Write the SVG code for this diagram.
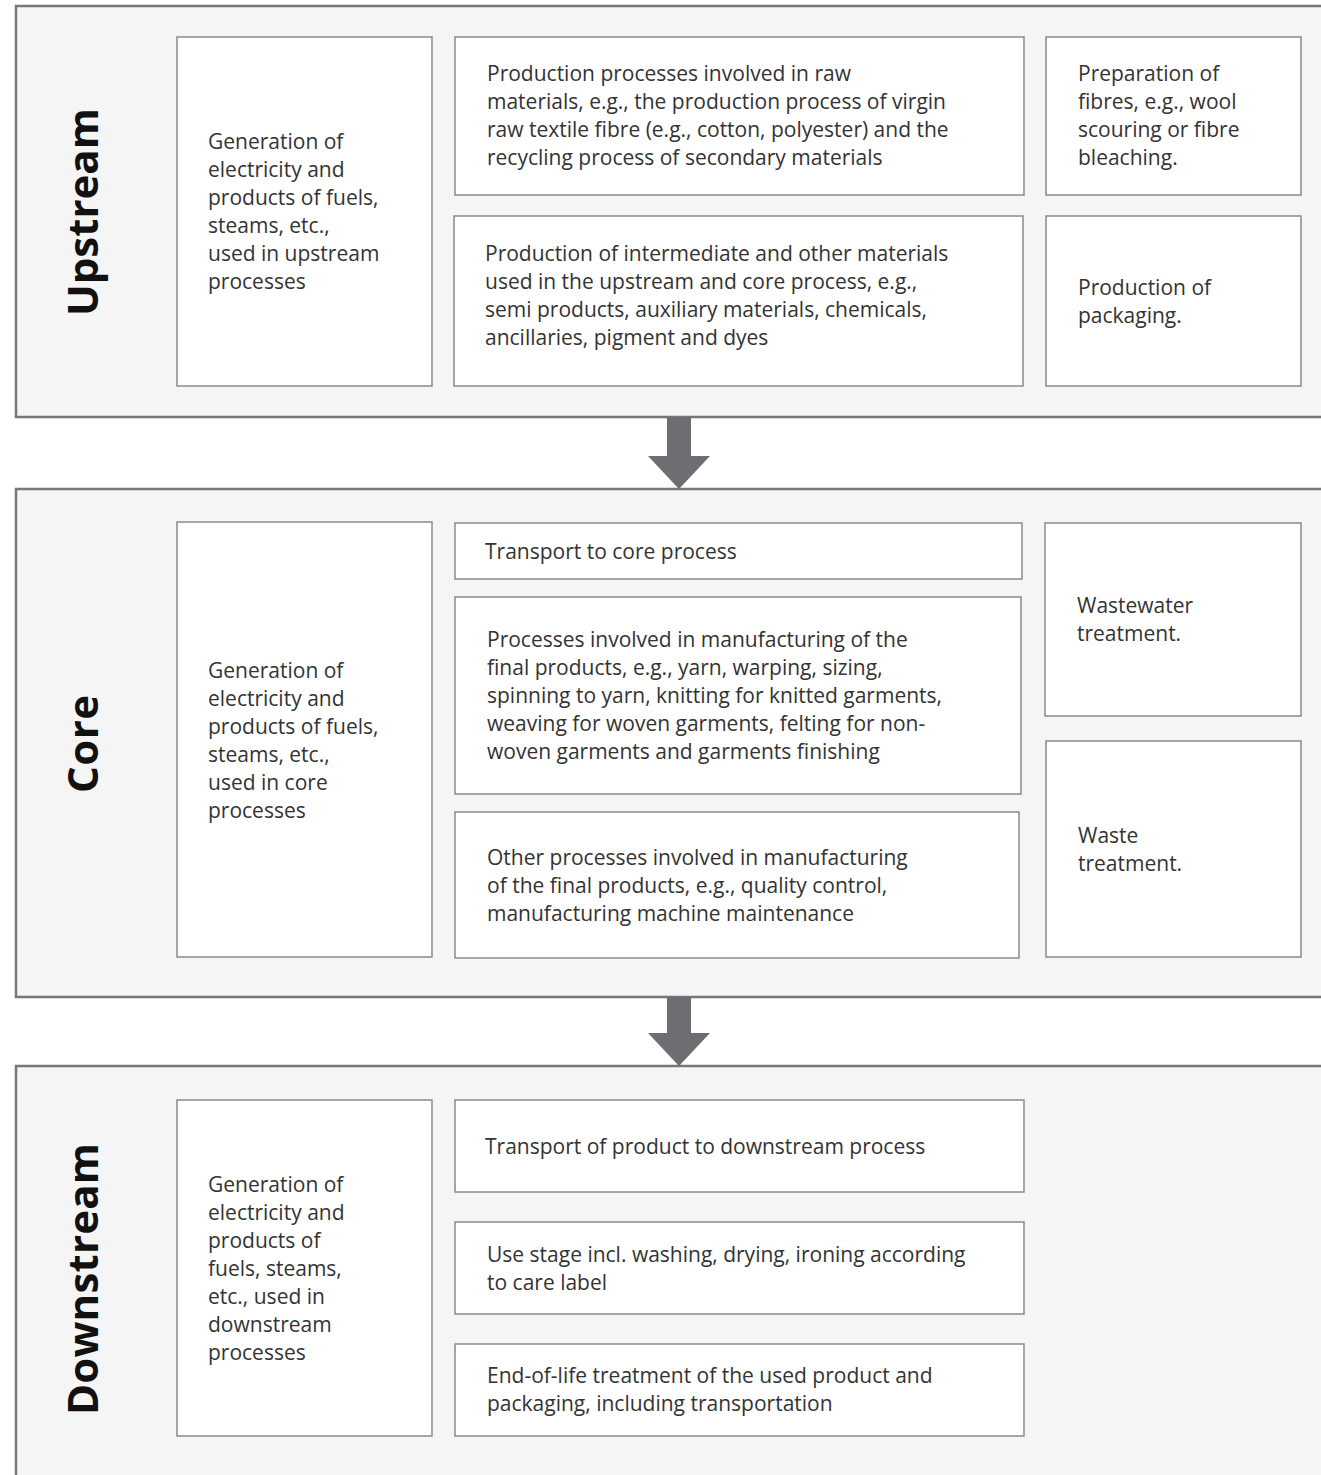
<svg xmlns="http://www.w3.org/2000/svg" width="1321" height="1475" viewBox="0 0 1321 1475">
<defs>
<style>
.panel{fill:#f5f5f5;stroke:#777779;stroke-width:2.5}
.box{fill:#fff;stroke:#8a8a8c;stroke-width:1.5}
.t{font-family:"Open Sans","Noto Sans",sans-serif;font-size:21px;fill:#333}
.lab{font-family:"Open Sans","Noto Sans",sans-serif;font-size:42px;font-weight:bold;fill:#111;text-anchor:middle}
.arr{fill:#6d6e71}
</style>
</defs>
<rect width="1321" height="1475" fill="#fff"/>
<g id="panel-upstream">
<rect class="panel" x="16" y="6" width="1320" height="411"/>
<text class="lab" transform="translate(98,212) rotate(-90)" textLength="208">Upstream</text>
</g>
<g id="panel-core">
<rect class="panel" x="16" y="489" width="1320" height="508"/>
<text class="lab" transform="translate(98,744) rotate(-90)" textLength="98">Core</text>
</g>
<g id="panel-downstream">
<rect class="panel" x="16" y="1066" width="1320" height="420"/>
<text class="lab" transform="translate(98,1279) rotate(-90)" textLength="272">Downstream</text>
</g>
<g id="connectors">
<polygon class="arr" points="667,417 691,417 691,456 710,456 679,489 648,456 667,456"/>
<polygon class="arr" points="667,997 691,997 691,1033 710,1033 679,1066 648,1033 667,1033"/>
</g>
<g id="up-energy">
<rect class="box" x="177" y="37" width="255" height="349"/>
<text class="t" x="208" y="149">Generation of<tspan x="208" dy="28">electricity and</tspan><tspan x="208" dy="28">products of fuels,</tspan><tspan x="208" dy="28">steams, etc.,</tspan><tspan x="208" dy="28">used in upstream</tspan><tspan x="208" dy="28">processes</tspan></text>
</g>
<g id="up-raw">
<rect class="box" x="455" y="37" width="569" height="158"/>
<text class="t" x="487" y="81">Production processes involved in raw<tspan x="487" dy="28">materials, e.g., the production process of virgin</tspan><tspan x="487" dy="28">raw textile fibre (e.g., cotton, polyester) and the</tspan><tspan x="487" dy="28">recycling process of secondary materials</tspan></text>
</g>
<g id="up-fibres">
<rect class="box" x="1046" y="37" width="255" height="158"/>
<text class="t" x="1078" y="81">Preparation of<tspan x="1078" dy="28">fibres, e.g., wool</tspan><tspan x="1078" dy="28">scouring or fibre</tspan><tspan x="1078" dy="28">bleaching.</tspan></text>
</g>
<g id="up-intermediate">
<rect class="box" x="454" y="216" width="569" height="170"/>
<text class="t" x="485" y="261">Production of intermediate and other materials<tspan x="485" dy="28">used in the upstream and core process, e.g.,</tspan><tspan x="485" dy="28">semi products, auxiliary materials, chemicals,</tspan><tspan x="485" dy="28">ancillaries, pigment and dyes</tspan></text>
</g>
<g id="up-packaging">
<rect class="box" x="1046" y="216" width="255" height="170"/>
<text class="t" x="1078" y="295">Production of<tspan x="1078" dy="28">packaging.</tspan></text>
</g>
<g id="core-energy">
<rect class="box" x="177" y="522" width="255" height="435"/>
<text class="t" x="208" y="678">Generation of<tspan x="208" dy="28">electricity and</tspan><tspan x="208" dy="28">products of fuels,</tspan><tspan x="208" dy="28">steams, etc.,</tspan><tspan x="208" dy="28">used in core</tspan><tspan x="208" dy="28">processes</tspan></text>
</g>
<g id="core-transport">
<rect class="box" x="455" y="523" width="567" height="56"/>
<text class="t" x="485" y="559">Transport to core process</text>
</g>
<g id="core-manufacturing">
<rect class="box" x="455" y="597" width="566" height="197"/>
<text class="t" x="487" y="647">Processes involved in manufacturing of the<tspan x="487" dy="28">final products, e.g., yarn, warping, sizing,</tspan><tspan x="487" dy="28">spinning to yarn, knitting for knitted garments,</tspan><tspan x="487" dy="28">weaving for woven garments, felting for non-</tspan><tspan x="487" dy="28">woven garments and garments finishing</tspan></text>
</g>
<g id="core-other">
<rect class="box" x="455" y="812" width="564" height="146"/>
<text class="t" x="487" y="865">Other processes involved in manufacturing<tspan x="487" dy="28">of the final products, e.g., quality control,</tspan><tspan x="487" dy="28">manufacturing machine maintenance</tspan></text>
</g>
<g id="core-wastewater">
<rect class="box" x="1045" y="523" width="256" height="193"/>
<text class="t" x="1077" y="613">Wastewater<tspan x="1077" dy="28">treatment.</tspan></text>
</g>
<g id="core-waste">
<rect class="box" x="1046" y="741" width="255" height="216"/>
<text class="t" x="1078" y="843">Waste<tspan x="1078" dy="28">treatment.</tspan></text>
</g>
<g id="down-energy">
<rect class="box" x="177" y="1100" width="255" height="336"/>
<text class="t" x="208" y="1192">Generation of<tspan x="208" dy="28">electricity and</tspan><tspan x="208" dy="28">products of</tspan><tspan x="208" dy="28">fuels, steams,</tspan><tspan x="208" dy="28">etc., used in</tspan><tspan x="208" dy="28">downstream</tspan><tspan x="208" dy="28">processes</tspan></text>
</g>
<g id="down-transport">
<rect class="box" x="455" y="1100" width="569" height="92"/>
<text class="t" x="485" y="1154">Transport of product to downstream process</text>
</g>
<g id="down-use">
<rect class="box" x="455" y="1222" width="569" height="92"/>
<text class="t" x="487" y="1262">Use stage incl. washing, drying, ironing according<tspan x="487" dy="28">to care label</tspan></text>
</g>
<g id="down-eol">
<rect class="box" x="455" y="1344" width="569" height="92"/>
<text class="t" x="487" y="1383">End-of-life treatment of the used product and<tspan x="487" dy="28">packaging, including transportation</tspan></text>
</g>
</svg>
